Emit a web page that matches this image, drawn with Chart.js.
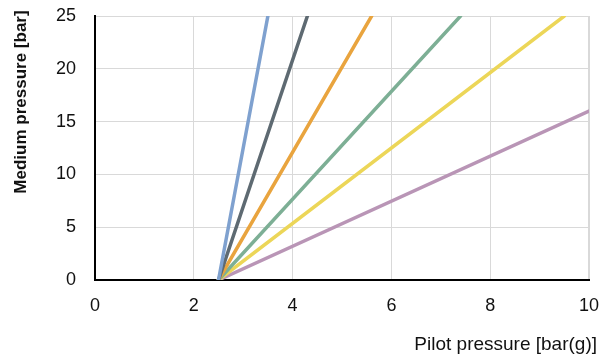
<!DOCTYPE html>
<html>
<head>
<meta charset="utf-8">
<script src="https://cdn.jsdelivr.net/npm/chart.js@4"></script>
<style>
html,body{margin:0;padding:0;background:#fff;}
#wrap{position:relative;width:612px;height:360px;}
</style>
</head>
<body>
<div id="wrap"><canvas id="c" width="612" height="360"></canvas></div>
<script>
// Data
const seriesNames = ["Line 1", "Line 2", "Line 3", "Line 4", "Line 5", "Line 6"];
const startPilot = [2.5, 2.5, 2.5, 2.5, 2.5, 2.5];
const startMedium = [0, 0, 0, 0, 0, 0];
const endPilot = [3.5, 4.3, 5.6, 7.4, 9.5, 10];
const endMedium = [25, 25, 25, 25, 25, 16];
const colors = ["#7fa1cf", "#5e6a72", "#e9a43e", "#7daf95", "#ecd658", "#b995b6"];
const xTicks = [0, 2, 4, 6, 8, 10];
const yTicks = [0, 5, 10, 15, 20, 25];
const xTitle = "Pilot pressure [bar(g)]";
const yTitle = "Medium pressure [bar]";

const datasets = seriesNames.map((n, i) => ({
  label: n,
  data: [{x: startPilot[i], y: startMedium[i]}, {x: endPilot[i], y: endMedium[i]}],
  borderColor: colors[i],
  backgroundColor: colors[i],
  borderWidth: 3.5,
  pointRadius: 0,
  showLine: true,
  fill: false,
  borderCapStyle: 'round'
}));

const FONT = '"Liberation Sans", Arial, sans-serif';

const titles = {
  id: 'axisTitles',
  afterDraw(chart) {
    const ctx = chart.ctx;
    ctx.save();
    ctx.fillStyle = '#111';
    ctx.font = 'bold 17px ' + FONT;
    ctx.translate(21, 102);
    ctx.rotate(-Math.PI / 2);
    ctx.textAlign = 'center';
    ctx.textBaseline = 'middle';
    ctx.fillText(yTitle, 0, 0);
    ctx.restore();
    ctx.save();
    ctx.fillStyle = '#111';
    ctx.font = '19px ' + FONT;
    ctx.textAlign = 'right';
    ctx.textBaseline = 'middle';
    ctx.fillText(xTitle, 597, 345);
    ctx.restore();
  }
};

new Chart(document.getElementById('c'), {
  type: 'scatter',
  data: { datasets },
  options: {
    responsive: false,
    animation: false,
    layout: { padding: { top: 16, right: 23, left: 0, bottom: 0 } },
    plugins: { legend: { display: false }, tooltip: { enabled: false } },
    scales: {
      x: {
        type: 'linear', min: 0, max: 10,
        afterBuildTicks: s => { s.ticks = xTicks.map(v => ({value: v})); },
        afterFit: s => { s.height = 80; s.paddingLeft = 0; s.paddingRight = 0; },
        ticks: { color: '#111', padding: 15, font: { size: 18, family: FONT } },
        grid: {
          drawTicks: false,
          color: '#d9d9d9',
          lineWidth: ctx => (ctx.tick && ctx.tick.value === 10 ? 2 : 1)
        },
        border: { color: '#000', width: 2 }
      },
      y: {
        type: 'linear', min: 0, max: 25,
        afterBuildTicks: s => { s.ticks = yTicks.map(v => ({value: v})); },
        afterFit: s => { s.width = 95; s.paddingTop = 0; s.paddingBottom = 0; },
        ticks: { color: '#111', padding: 19, font: { size: 18, family: FONT } },
        grid: { drawTicks: false, color: '#d9d9d9', lineWidth: 1 },
        border: { color: '#000', width: 2 }
      }
    }
  },
  plugins: [titles]
});
</script>
</body>
</html>
